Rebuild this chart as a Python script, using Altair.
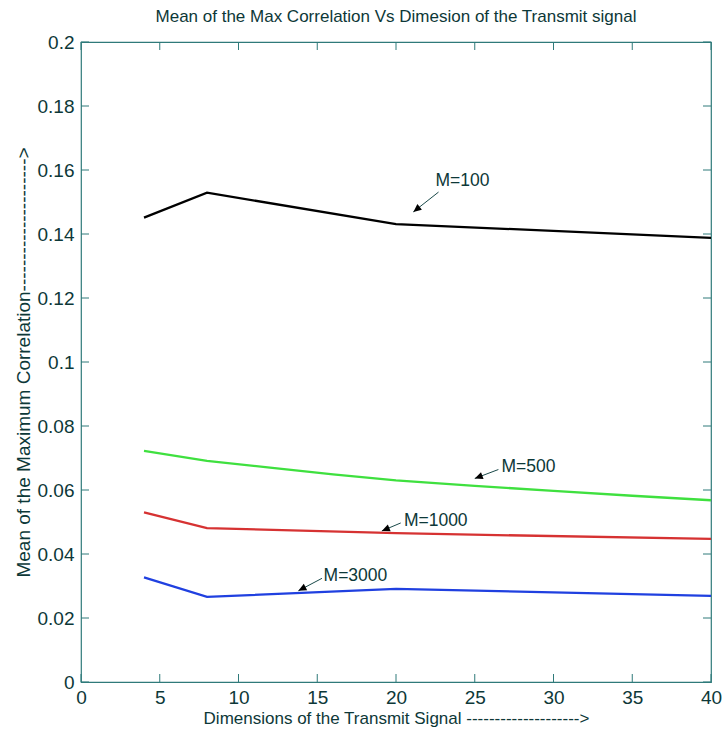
import math
import altair as alt
import pandas as pd

# ---- data ----
dims_m100 = [4, 8, 20, 40]
vals_m100 = [0.1451, 0.1529, 0.1431, 0.1388]

dims_m500 = [4, 8, 12, 16, 20, 25, 30, 35, 40]
vals_m500 = [0.0722, 0.0691, 0.0670, 0.0649, 0.0630, 0.0613, 0.0597, 0.0582, 0.0568]

dims_m1000 = [4, 8, 20, 40]
vals_m1000 = [0.0530, 0.0481, 0.0465, 0.0447]

dims_m3000 = [4, 8, 20, 40]
vals_m3000 = [0.0327, 0.0266, 0.0291, 0.0269]

series_names = ["M=100", "M=500", "M=1000", "M=3000"]
series_colors = ["#000000", "#3fe03f", "#d63232", "#2040e0"]

# annotations: label text, text anchor, arrow tail, arrow head (data units)
ann_text = ["M=100", "M=500", "M=1000", "M=3000"]
ann_tx = [22.5, 26.7, 20.5, 15.4]
ann_ty = [0.1566, 0.0672, 0.0503, 0.0332]
tail_x = [22.7, 26.5, 20.3, 15.3]
tail_y = [0.1531, 0.0664, 0.0497, 0.0324]
head_x = [21.1, 25.0, 19.1, 13.8]
head_y = [0.1469, 0.0636, 0.0472, 0.0285]

x_ticks = [0, 5, 10, 15, 20, 25, 30, 35, 40]
y_ticks = [0, 0.02, 0.04, 0.06, 0.08, 0.1, 0.12, 0.14, 0.16, 0.18, 0.2]

W, H = 630, 640
X_DOM = [0, 40]
Y_DOM = [0, 0.2]
TXT = "#0d3838"
FRAME = "#2f7a7a"
FONT = "Liberation Sans"

rows = []
for name, xs, ys in [("M=100", dims_m100, vals_m100), ("M=500", dims_m500, vals_m500),
                     ("M=1000", dims_m1000, vals_m1000), ("M=3000", dims_m3000, vals_m3000)]:
    for i, (a, b) in enumerate(zip(xs, ys)):
        rows.append({"series": name, "dim": a, "val": b, "ord": i})
df = pd.DataFrame(rows)

ann = pd.DataFrame({"text": ann_text, "tx": ann_tx, "ty": ann_ty,
                    "x0": tail_x, "y0": tail_y, "x1": head_x, "y1": head_y})
sx = W / (X_DOM[1] - X_DOM[0])
sy = H / (Y_DOM[1] - Y_DOM[0])
ann["ang"] = [
    (math.degrees(math.atan2((b - a) * sx, (d - c) * sy)) + 360) % 360
    for a, b, c, d in zip(tail_x, head_x, tail_y, head_y)
]

xs = alt.Scale(domain=X_DOM, nice=False, zero=False)
ys = alt.Scale(domain=Y_DOM, nice=False, zero=False)

dash_y = "-" * 21
dash_x = "-" * 20

base = alt.Chart(df)
lines = base.mark_line(strokeWidth=2.3).encode(
    x=alt.X("dim:Q", scale=xs, axis=alt.Axis(
        values=x_ticks, ticks=False, domain=False, grid=False, labelPadding=6,
        labelFontSize=19, labelColor=TXT, labelFont=FONT, labelFlush=False,
        title="Dimensions of the Transmit Signal " + dash_x + ">",
        titleFontSize=17, titleFontWeight="normal", titleColor=TXT, titleFont=FONT,
        titleX=W / 2, titleY=36, titleBaseline="middle", titleAlign="center")),
    y=alt.Y("val:Q", scale=ys, axis=alt.Axis(
        values=y_ticks, ticks=False, domain=False, grid=False, labelPadding=7,
        labelFontSize=19, labelColor=TXT, labelFont=FONT, labelFlush=False,
        labelExpr="datum.value == 0 ? '0' : format(datum.value, '.2~f')",
        title="Mean of the Maximum Correlation" + dash_y + ">",
        titleFontSize=19, titleFontWeight="normal", titleColor=TXT, titleFont=FONT,
        titleX=-58, titleY=H / 2, titleAngle=-90, titleBaseline="middle", titleAlign="center")),
    color=alt.Color("series:N", scale=alt.Scale(domain=series_names, range=series_colors), legend=None),
    order="ord:Q",
)

tick_df_x = pd.DataFrame({"t": x_ticks})
tick_df_y = pd.DataFrame({"t": y_ticks})
TL = 8
bot_ticks = alt.Chart(tick_df_x).mark_rule(color=FRAME, strokeWidth=1, y2Offset=-TL).encode(
    x=alt.X("t:Q", scale=xs), y=alt.Y(datum=Y_DOM[0], scale=ys), y2=alt.Y2(datum=Y_DOM[0]))
top_ticks = alt.Chart(tick_df_x).mark_rule(color=FRAME, strokeWidth=1, y2Offset=TL).encode(
    x=alt.X("t:Q", scale=xs), y=alt.Y(datum=Y_DOM[1], scale=ys), y2=alt.Y2(datum=Y_DOM[1]))
left_ticks = alt.Chart(tick_df_y).mark_rule(color=FRAME, strokeWidth=1, x2Offset=TL).encode(
    y=alt.Y("t:Q", scale=ys), x=alt.X(datum=X_DOM[0], scale=xs), x2=alt.X2(datum=X_DOM[0]))
right_ticks = alt.Chart(tick_df_y).mark_rule(color=FRAME, strokeWidth=1, x2Offset=-TL).encode(
    y=alt.Y("t:Q", scale=ys), x=alt.X(datum=X_DOM[1], scale=xs), x2=alt.X2(datum=X_DOM[1]))

shafts = alt.Chart(ann).mark_rule(color="#1a4a4a", strokeWidth=1).encode(
    x=alt.X("x0:Q", scale=xs), y=alt.Y("y0:Q", scale=ys), x2="x1:Q", y2="y1:Q")
heads = alt.Chart(ann).mark_point(
    shape="M0,0L-0.45,1L0.45,1Z", filled=True, size=260, color="#000000", opacity=1, strokeWidth=0
).encode(x=alt.X("x1:Q", scale=xs), y=alt.Y("y1:Q", scale=ys), angle=alt.Angle("ang:Q", scale=None))
labels = alt.Chart(ann).mark_text(align="left", baseline="middle", fontSize=17.5, font=FONT, color=TXT).encode(
    x=alt.X("tx:Q", scale=xs), y=alt.Y("ty:Q", scale=ys), text="text:N")

chart = alt.layer(bot_ticks, top_ticks, left_ticks, right_ticks, lines, shafts, heads, labels).properties(
    width=W, height=H,
    title=alt.TitleParams("Mean of the Max Correlation Vs Dimesion of the Transmit signal",
                          fontSize=17, fontWeight="normal", color=TXT, font=FONT, anchor="middle", offset=7),
    autosize=alt.AutoSizeParams(type="none"),
    padding={"left": 81, "top": 42, "right": 14, "bottom": 49},
    background="white",
).configure_view(stroke=FRAME, strokeWidth=1.2)

chart.save("out.html", embed_options={"renderer": "svg", "actions": False})
